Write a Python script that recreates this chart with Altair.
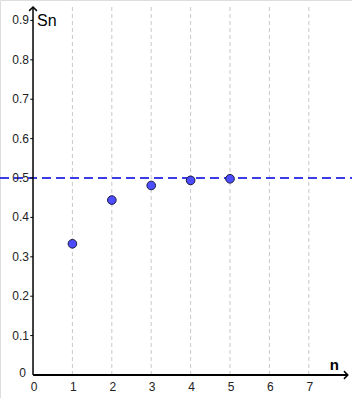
import altair as alt
import pandas as pd

# Data
n_values = [1, 2, 3, 4, 5]
sn_values = [0.333, 0.444, 0.481, 0.494, 0.498]
limit_value = 0.5
x_ticks = [0, 1, 2, 3, 4, 5, 6, 7]
y_ticks = [0.1, 0.2, 0.3, 0.4, 0.5, 0.6, 0.7, 0.8, 0.9]
y_tick_labels = ["0.1", "0.2", "0.3", "0.4", "0.5", "0.6", "0.7", "0.8", "0.9"]
grid_x = [1, 2, 3, 4, 5, 6, 7]

X_DOM = [-0.838, 8.096]
Y_DOM = [-0.0584, 0.9518]
xs = alt.Scale(domain=X_DOM, nice=False, zero=False)
ys = alt.Scale(domain=Y_DOM, nice=False, zero=False)
Y_TOP = 0.934
X_END = 7.99

def X(field="x"):
    return alt.X(field, type="quantitative", scale=xs, axis=None)

def Y(field="y"):
    return alt.Y(field, type="quantitative", scale=ys, axis=None)

grid_df = pd.DataFrame({"x": grid_x, "y": [0.0] * len(grid_x), "y2": [0.937] * len(grid_x)})
grid = alt.Chart(grid_df).mark_rule(color="#c8c8c8", strokeWidth=1, strokeDash=[4, 3]).encode(
    x=X(), y=Y(), y2="y2")

limit_df = pd.DataFrame({"x": [X_DOM[0]], "x2": [X_DOM[1]], "y": [limit_value]})
limit = alt.Chart(limit_df).mark_rule(color="#3c3ce6", strokeWidth=2, strokeDash=[9, 5]).encode(
    x=X(), x2="x2", y=Y())

yaxis_df = pd.DataFrame({"x": [0.0], "y": [0.0], "y2": [Y_TOP]})
yaxis = alt.Chart(yaxis_df).mark_rule(color="black", strokeWidth=1.5).encode(x=X(), y=Y(), y2="y2")

xaxis_df = pd.DataFrame({"x": [0.0], "x2": [X_END], "y": [0.0]})
xaxis = alt.Chart(xaxis_df).mark_rule(color="black", strokeWidth=2).encode(x=X(), x2="x2", y=Y())

up_df = pd.DataFrame({"x": [0.0], "y": [Y_TOP]})
up_arrow = alt.Chart(up_df).mark_point(
    shape="M-1,1L0,0L1,1", filled=False, color="black", strokeWidth=1.5, size=60, opacity=1
).encode(x=X(), y=Y())

right_df = pd.DataFrame({"x": [X_END], "y": [0.0]})
right_arrow = alt.Chart(right_df).mark_point(
    shape="M-1,-1L0,0L-1,1", filled=False, color="black", strokeWidth=1.5, size=60, opacity=1
).encode(x=X(), y=Y())

yt_df = pd.DataFrame({"x": [-0.07] * len(y_ticks), "x2": [0.0] * len(y_ticks), "y": y_ticks, "label": y_tick_labels})
yticks = alt.Chart(yt_df).mark_rule(color="black", strokeWidth=1).encode(x=X(), x2="x2", y=Y())
ylabels = alt.Chart(yt_df).mark_text(
    align="right", baseline="middle", dx=-4, fontSize=12, font="Liberation Sans", color="#222222"
).encode(x=alt.X("x2:Q", scale=xs, axis=None), y=Y(), text="label:N")

y0_df = pd.DataFrame({"x": [0.0], "y": [0.0], "label": ["0"]})
y0label = alt.Chart(y0_df).mark_text(
    align="right", baseline="middle", dx=-7, dy=-2, fontSize=12, font="Liberation Sans", color="#222222"
).encode(x=X(), y=Y(), text="label:N")

xt_df = pd.DataFrame({"x": x_ticks, "y": [0.0] * len(x_ticks), "label": [str(v) for v in x_ticks]})
xlabels = alt.Chart(xt_df).mark_text(
    align="center", baseline="middle", dy=12, dx=1, fontSize=12, font="Liberation Sans", color="#222222"
).encode(x=X(), y=Y(), text="label:N")

sn_df = pd.DataFrame({"x": [0.0], "y": [0.9], "label": ["Sn"]})
sn_title = alt.Chart(sn_df).mark_text(
    align="left", baseline="middle", dx=4, dy=1, fontSize=16, font="Liberation Sans", color="black"
).encode(x=X(), y=Y(), text="label:N")

n_df = pd.DataFrame({"x": [7.99], "y": [0.0], "label": ["n"]})
n_title = alt.Chart(n_df).mark_text(
    align="right", baseline="alphabetic", dx=-9, dy=-5, fontSize=15, fontWeight="bold",
    font="Liberation Sans", color="black"
).encode(x=X(), y=Y(), text="label:N")

pts_df = pd.DataFrame({"x": n_values, "y": sn_values})
points = alt.Chart(pts_df).mark_point(
    filled=True, fill="#4d4dff", stroke="#1a1a40", strokeWidth=1, size=75, opacity=1
).encode(x=X(), y=Y())

chart = alt.layer(
    grid, limit, yaxis, xaxis, up_arrow, right_arrow, yticks, ylabels, y0label, xlabels,
    sn_title, n_title, points
).properties(
    width=352, height=398, padding=0, autosize=alt.AutoSizeParams(type="none")
).configure_view(stroke=None).configure(background="white")

chart.save("out.html", embed_options={"renderer": "svg", "actions": False})
